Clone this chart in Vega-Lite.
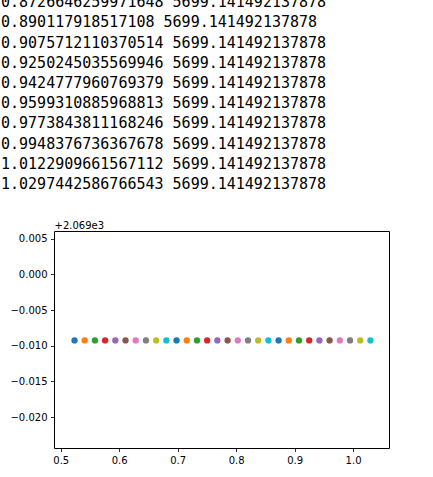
{
  "$schema": "https://vega.github.io/schema/vega-lite/v6.json",
  "width": 335,
  "height": 217,
  "autosize": {"type": "none"},
  "padding": {"left": 54, "top": 231, "right": 44, "bottom": 29},
  "background": "white",
  "title": {
    "text": [
      "0.8726646259971648 5699.141492137878",
      "0.890117918517108 5699.141492137878",
      "0.9075712110370514 5699.141492137878",
      "0.9250245035569946 5699.141492137878",
      "0.9424777960769379 5699.141492137878",
      "0.9599310885968813 5699.141492137878",
      "0.9773843811168246 5699.141492137878",
      "0.9948376736367678 5699.141492137878",
      "1.0122909661567112 5699.141492137878",
      "1.0297442586766543 5699.141492137878"
    ],
    "font": "DejaVu Sans Mono",
    "fontSize": 15,
    "fontWeight": "normal",
    "color": "#000",
    "anchor": "start",
    "frame": "group",
    "lineHeight": 20.2,
    "dx": -53,
    "offset": 28
  },
  "data": {
    "values": [
      {"k": 0, "x": 0.5235987755982988, "y": 2068.99075},
      {"k": 1, "x": 0.5410520681182421, "y": 2068.99075},
      {"k": 2, "x": 0.5585053606381855, "y": 2068.99075},
      {"k": 3, "x": 0.5759586531581288, "y": 2068.99075},
      {"k": 4, "x": 0.5934119456780721, "y": 2068.99075},
      {"k": 5, "x": 0.6108652381980153, "y": 2068.99075},
      {"k": 6, "x": 0.6283185307179586, "y": 2068.99075},
      {"k": 7, "x": 0.6457718232379019, "y": 2068.99075},
      {"k": 8, "x": 0.6632251157578452, "y": 2068.99075},
      {"k": 9, "x": 0.6806784082777885, "y": 2068.99075},
      {"k": 10, "x": 0.6981317007977318, "y": 2068.99075},
      {"k": 11, "x": 0.7155849933176751, "y": 2068.99075},
      {"k": 12, "x": 0.7330382858376184, "y": 2068.99075},
      {"k": 13, "x": 0.7504915783575616, "y": 2068.99075},
      {"k": 14, "x": 0.767944870877505, "y": 2068.99075},
      {"k": 15, "x": 0.7853981633974483, "y": 2068.99075},
      {"k": 16, "x": 0.8028514559173916, "y": 2068.99075},
      {"k": 17, "x": 0.8203047484373349, "y": 2068.99075},
      {"k": 18, "x": 0.8377580409572781, "y": 2068.99075},
      {"k": 19, "x": 0.8552113334772214, "y": 2068.99075},
      {"k": 20, "x": 0.8726646259971648, "y": 2068.99075},
      {"k": 21, "x": 0.890117918517108, "y": 2068.99075},
      {"k": 22, "x": 0.9075712110370514, "y": 2068.99075},
      {"k": 23, "x": 0.9250245035569946, "y": 2068.99075},
      {"k": 24, "x": 0.9424777960769379, "y": 2068.99075},
      {"k": 25, "x": 0.9599310885968813, "y": 2068.99075},
      {"k": 26, "x": 0.9773843811168246, "y": 2068.99075},
      {"k": 27, "x": 0.9948376736367678, "y": 2068.99075},
      {"k": 28, "x": 1.0122909661567112, "y": 2068.99075},
      {"k": 29, "x": 1.0297442586766543, "y": 2068.99075}
    ]
  },
  "mark": {"type": "circle", "size": 40, "opacity": 1},
  "encoding": {
    "x": {
      "field": "x",
      "type": "quantitative",
      "scale": {"domain": [0.4885, 1.0615], "nice": false, "zero": false},
      "axis": {"values": [0.5, 0.6, 0.7, 0.8, 0.9, 1.0], "format": ".1f", "title": null}
    },
    "y": {
      "field": "y",
      "type": "quantitative",
      "scale": {"domain": [2068.97568, 2069.00607], "nice": false, "zero": false},
      "axis": {
        "values": [2068.98, 2068.985, 2068.99, 2068.995, 2069, 2069.005],
        "labelExpr": "format(datum.value - 2069, '.3f')",
        "title": "+2.069e3",
        "titleAngle": 0,
        "titleX": 0,
        "titleY": -3,
        "titleAlign": "left",
        "titleBaseline": "alphabetic",
        "titleFont": "DejaVu Sans",
        "titleFontSize": 10,
        "titleFontWeight": "normal",
        "titleColor": "#000"
      }
    },
    "color": {
      "field": "k",
      "type": "ordinal",
      "scale": {"range": ["#1f77b4", "#ff7f0e", "#2ca02c", "#d62728", "#9467bd", "#8c564b", "#e377c2", "#7f7f7f", "#bcbd22", "#17becf"]},
      "legend": null
    }
  },
  "config": {
    "view": {"stroke": "#000", "strokeWidth": 1},
    "axis": {
      "domain": false,
      "grid": false,
      "ticks": true,
      "tickColor": "#000",
      "tickSize": 3.5,
      "tickWidth": 0.8,
      "labelFont": "DejaVu Sans",
      "labelFontSize": 10,
      "labelColor": "#000",
      "labelPadding": 3.5
    }
  }
}
